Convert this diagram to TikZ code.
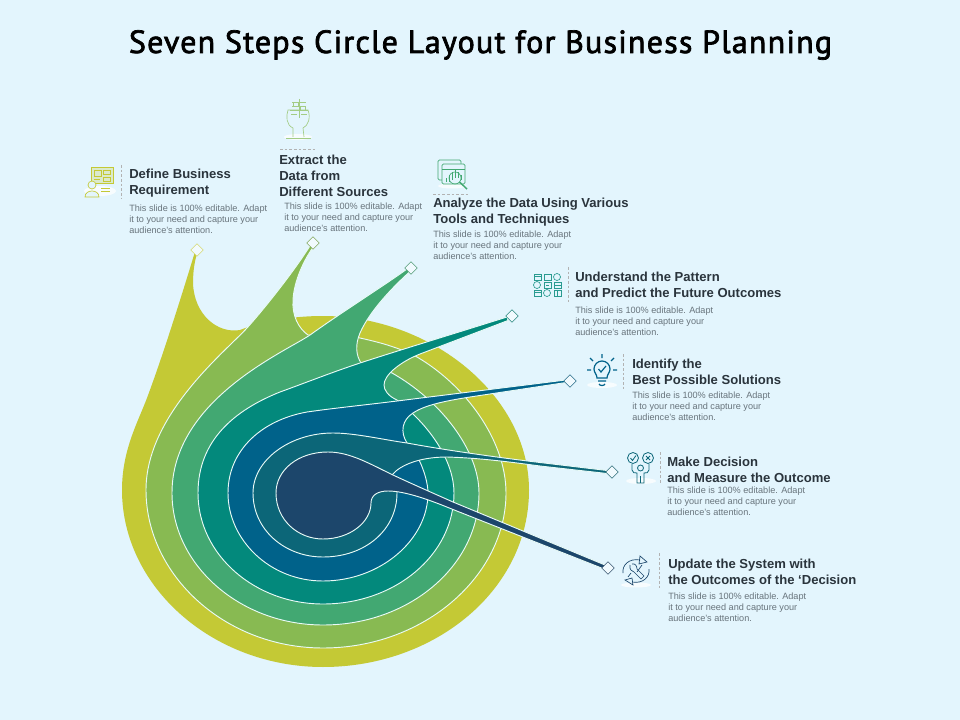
\documentclass[tikz,border=0pt]{standalone}
\usepackage{fontspec}
\usepackage{xcolor}
\usetikzlibrary{shapes.geometric}
\setmainfont{Liberation Sans}
\newfontfamily\titlefont[LetterSpace=3.8,FakeBold=2.2]{PT Sans}
\definecolor{skybg}{HTML}{E3F5FD}
\definecolor{bandA}{HTML}{C4C935}
\definecolor{bandB}{HTML}{88BA52}
\definecolor{bandC}{HTML}{42A872}
\definecolor{bandD}{HTML}{03897C}
\definecolor{bandE}{HTML}{00628A}
\definecolor{bandF}{HTML}{0C6678}
\definecolor{bandG}{HTML}{1C466B}
\definecolor{rimcol}{HTML}{E8FAF6}
\definecolor{headcol}{HTML}{2A343C}
\definecolor{bodycol}{HTML}{68747C}
\begin{document}
\begin{tikzpicture}[x=0.75pt,y=-0.75pt]
  \tikzstyle{band}=[draw=rimcol, line width=0.7pt]
  \tikzstyle{tipmark}=[diamond, fill=skybg!50!white, draw, line width=0.45pt, inner sep=0pt, minimum size=9.5pt]
  \tikzstyle{headtxt}=[anchor=north west, inner sep=0pt, align=left, text=headcol, font=\fontsize{9.8}{12}\selectfont\bfseries]
  \tikzstyle{bodytxt}=[anchor=north west, inner sep=0pt, align=left, text=bodycol, font=\fontsize{6.85}{8.25}\selectfont]
  \tikzstyle{rule}=[draw=gray!60, dashed, line width=0.35pt, dash pattern=on 2pt off 1.5pt]
  \tikzstyle{glow}=[fill=white, opacity=0.75]
  \tikzstyle{glyph}=[line width=0.5pt]

  \fill[skybg] (0,0) rectangle (960,720);
  \useasboundingbox (0,0) rectangle (960,720);

  \node (title) at (480.5,45) {\titlefont\fontsize{24}{28}\selectfont Seven Steps Circle Layout for Business Planning};

  \coordinate (tipA) at (197,250);
  \coordinate (tipB) at (313,243);
  \coordinate (tipC) at (411,268);
  \coordinate (tipD) at (512,316);
  \coordinate (tipE) at (570,381);
  \coordinate (tipF) at (612,472);
  \coordinate (tipG) at (608,568);

  \fill[bandA] (195.5,250) .. controls (188,275) and (165,350) .. (147,398)
    .. controls (138,422) and (122,450) .. (122,490)
    .. controls (122,587) and (213,667) .. (323,667)
    .. controls (435,667) and (529,590) .. (529,490)
    .. controls (529,395) and (430,316) .. (323,316)
    .. controls (290,316) and (260,322) .. (240,330)
    .. controls (218,334) and (194,315) .. (193,283)
    .. controls (193,270) and (195,258) .. (198.5,250) -- cycle;

  \filldraw[band, fill=bandB] (310.5,245) .. controls (295,270) and (265,308) .. (247,328)
    .. controls (225,352) and (146,415) .. (146,490)
    .. controls (146,575) and (225,648) .. (323,648)
    .. controls (425,648) and (506,575) .. (506,493)
    .. controls (506,440) and (465,385) .. (417,357)
    .. controls (398,347) and (378,342) .. (360,338)
    .. controls (345,335) and (325,335) .. (308,335)
    .. controls (298,328) and (292,315) .. (293,300)
    .. controls (294,280) and (305,258) .. (314,246) -- cycle;

  \filldraw[band, fill=bandC] (407,269) .. controls (385,285) and (345,310) .. (310,335)
    .. controls (285,352) and (172,400) .. (172,493)
    .. controls (172,565) and (240,625) .. (323,625)
    .. controls (410,625) and (479,565) .. (479,493)
    .. controls (479,450) and (440,400) .. (392,373)
    .. controls (380,368) and (370,366) .. (361,363)
    .. controls (356,355) and (355,345) .. (360,333)
    .. controls (370,310) and (395,285) .. (410,271.5) -- cycle;

  \filldraw[band, fill=bandD] (507,317) .. controls (440,338) and (400,350) .. (360,363)
    .. controls (330,373) and (305,383) .. (280,392)
    .. controls (235,410) and (198,440) .. (198,493)
    .. controls (198,555) and (255,604) .. (323,604)
    .. controls (395,604) and (454,555) .. (454,493)
    .. controls (454,465) and (435,430) .. (397,400)
    .. controls (388,396) and (384,390) .. (384,385)
    .. controls (384,375) and (400,362) .. (420,354)
    -- (508,320.5) -- cycle;

  \filldraw[band, fill=bandE] (566,380) -- (397,401)
    .. controls (365,405) and (335,408) .. (307,412)
    .. controls (262,420) and (228,450) .. (228,493)
    .. controls (228,540) and (270,581) .. (323,581)
    .. controls (380,581) and (428,540) .. (428,493)
    .. controls (428,480) and (420,455) .. (407,443)
    .. controls (400,432) and (402,420) .. (413,413)
    .. controls (425,405) and (445,401) .. (470,397)
    -- (566,382.5) -- cycle;

  \filldraw[band, fill=bandF] (607,470.5) -- (540,462.5)
    .. controls (510,459) and (450,451) .. (407,443)
    .. controls (385,440) and (355,433) .. (333,433)
    .. controls (290,433) and (253,460) .. (253,493)
    .. controls (253,530) and (285,557) .. (323,557)
    .. controls (365,557) and (397,530) .. (397,493)
    -- (397,488) -- (392,475)
    .. controls (400,465) and (420,457) .. (447,457)
    .. controls (480,458) and (510,462) .. (540,466)
    -- (607,473.5) -- cycle;

  \filldraw[band, fill=bandG] (605,565) -- (453,502)
    .. controls (435,494) and (410,483) .. (393,475)
    .. controls (370,464) and (350,452) .. (328,452)
    .. controls (298,452) and (276,470) .. (276,493)
    .. controls (276,520) and (298,539) .. (323,539)
    .. controls (350,539) and (371,522) .. (371,503)
    .. controls (371,495) and (378,491) .. (388,491)
    .. controls (405,491) and (430,500) .. (453,509.5)
    -- (604,569) -- cycle;

  \node[tipmark, draw=bandA!70!white] (markA) at (tipA) {};
  \node[tipmark, draw=bandB!70!gray] (markB) at (tipB) {};
  \node[tipmark, draw=bandC!70!gray] (markC) at (tipC) {};
  \node[tipmark, draw=bandD!70!gray] (markD) at (tipD) {};
  \node[tipmark, draw=bandE!70!gray] (markE) at (tipE) {};
  \node[tipmark, draw=bandF!70!gray] (markF) at (tipF) {};
  \node[tipmark, draw=bandG!70!gray] (markG) at (tipG) {};

  \node[headtxt] (headA) at (129,169) {Define Business\\Requirement};
  \node[bodytxt] (bodyA) at (129,204.5) {This slide is 100\% editable. Adapt\\it to your need and capture your\\audience's attention.};
  \node[headtxt] (headB) at (279,155) {Extract the\\Data from\\Different Sources};
  \node[bodytxt] (bodyB) at (284,202.5) {This slide is 100\% editable. Adapt\\it to your need and capture your\\audience's attention.};
  \node[headtxt] (headC) at (433,198) {Analyze the Data Using Various\\Tools and Techniques};
  \node[bodytxt] (bodyC) at (433,230.5) {This slide is 100\% editable. Adapt\\it to your need and capture your\\audience's attention.};
  \node[headtxt] (headD) at (575,272) {Understand the Pattern\\and Predict the Future Outcomes};
  \node[bodytxt] (bodyD) at (575,306.5) {This slide is 100\% editable. Adapt\\it to your need and capture your\\audience's attention.};
  \node[headtxt] (headE) at (632,359) {Identify the\\Best Possible Solutions};
  \node[bodytxt] (bodyE) at (632,391.5) {This slide is 100\% editable. Adapt\\it to your need and capture your\\audience's attention.};
  \node[headtxt] (headF) at (667,457) {Make Decision\\and Measure the Outcome};
  \node[bodytxt] (bodyF) at (667,486.5) {This slide is 100\% editable. Adapt\\it to your need and capture your\\audience's attention.};
  \node[headtxt] (headG) at (668,559) {Update the System with\\the Outcomes of the ‘Decision};
  \node[bodytxt] (bodyG) at (668,592.5) {This slide is 100\% editable. Adapt\\it to your need and capture your\\audience's attention.};

  \draw[rule] (121,165) -- (121,198);
  \draw[rule] (280,149) -- (316,149);
  \draw[rule] (433,194) -- (469,194);
  \draw[rule] (568,267) -- (568,303);
  \draw[rule] (623,354) -- (623,390);
  \draw[rule] (660,452) -- (660,484);
  \draw[rule] (659,553) -- (659,588);

  \fill[glow] (100,191) ellipse [x radius=16, y radius=5];
  \begin{scope}[glyph, draw=bandA]
    \draw[fill=bandA!25!skybg] (91,167) rectangle (113,183);
    \draw (94,170) rectangle (101,176);
    \draw (103,170) rectangle (110,174);
    \draw (103,177) rectangle (110,181);
    \draw (94,179) -- (100,179);
    \draw[fill=skybg] (92,185) circle [radius=4];
    \draw[fill=skybg] (85,197) .. controls (85,189) and (99,189) .. (99,197) -- cycle;
    \draw (101,188) -- (110,188) (101,191) -- (110,191);
  \end{scope}

  \fill[glow] (298,137) ellipse [x radius=14, y radius=3];
  \begin{scope}[glyph, draw=bandB!70!skybg]
    \draw (304,137) -- (303,128) .. controls (308,126) and (311,118) .. (308,110)
      -- (288,110) .. controls (286,116) and (286,125) .. (293,128) -- (293,137);
    \draw (286,138) -- (311,138);
    \draw (292,102) -- (306,102) (292,106) -- (306,106) (290,110) -- (308,110) (299,99) -- (299,118);
    \draw (291,114) -- (297,114) (301,114) -- (307,114);
    \draw (293,102) rectangle (298,106) (300,106) rectangle (305,110);
  \end{scope}

  \fill[glow] (452,186) ellipse [x radius=14, y radius=2.5];
  \begin{scope}[glyph, draw=bandC]
    \draw[rounded corners=1pt] (438,160) rectangle (461,180);
    \draw[rounded corners=1pt, fill=skybg] (442,164) rectangle (465,184);
    \draw (442,169) -- (465,169);
    \draw (446,182) -- (446,178) (449,182) -- (449,175) (452,180) -- (452,172) (455,178) -- (455,170) (458,178) -- (458,172) (461,180) -- (461,175);
    \draw (455,178) circle [radius=6];
    \draw[line width=1.1pt] (459.5,182) -- (467,189);
  \end{scope}

  \begin{scope}[glyph, draw=bandD!85!white]
    \draw (534,274) rectangle (541,280);
    \draw (534,276) -- (541,276);
    \draw (544,274) rectangle (551,280);
    \draw (557,277) circle [radius=3.5];
    \draw (537,285) circle [radius=3.5];
    \draw (544,282) rectangle (551,288);
    \draw (546,285) -- (549,285);
    \draw (554,282) rectangle (561,288);
    \draw (554,285) -- (561,285);
    \draw (534,290) rectangle (541,296);
    \draw (534,292) -- (541,292);
    \draw (547,293) circle [radius=3.5];
    \draw (554,290) rectangle (561,296);
    \draw (557,290) -- (557,296);
  \end{scope}

  \fill[glow] (602,385) ellipse [x radius=15, y radius=3];
  \begin{scope}[glyph, draw=bandE, line width=0.9pt]
    \draw (597,378) .. controls (597,374) and (594,373) .. (594,369)
      arc [start angle=180, end angle=360, radius=8]
      .. controls (610,373) and (607,374) .. (607,378) -- cycle;
    \draw (598,381) -- (606,381) (599,384) .. controls (600,386) and (604,386) .. (605,384);
    \draw (598.5,369) -- (601,372) -- (606,366);
    \draw (602,354) -- (602,358) (590,358) -- (593,361) (614,358) -- (611,361) (587,370) -- (591,370) (617,370) -- (613,370);
  \end{scope}

  \fill[glow] (641,481) ellipse [x radius=15, y radius=3];
  \begin{scope}[glyph, draw=bandF, line width=0.6pt]
    \draw (633,458) circle [radius=5.5];
    \draw (648,458) circle [radius=5.5];
    \draw (630.5,458) -- (632.5,460.5) -- (636,455.5);
    \draw (646,456) -- (650,460) (650,456) -- (646,460);
    \draw (640.5,468) circle [radius=3];
    \draw (632,464) -- (632,470) .. controls (632,473) and (635,473) .. (637,473) -- (637,483) -- (644,483) -- (644,473)
      .. controls (646,473) and (649,473) .. (649,470) -- (649,464);
    \draw (640.5,476) -- (640.5,483);
  \end{scope}

  \fill[glow] (636,585) ellipse [x radius=15, y radius=2.5];
  \begin{scope}[glyph, draw=bandG]
    \draw (623,573) .. controls (622,565) and (629,558) .. (640,560);
    \draw (640,556) -- (647,562) -- (639,564) -- cycle;
    \draw (649,569) .. controls (650,577) and (643,584) .. (632,582);
    \draw (632,578) -- (625,580) -- (633,585) -- cycle;
    \draw (630,565) .. controls (629,570) and (632,571) .. (634,572) -- (641,579) -- (644,576) -- (637,569)
      .. controls (637,566) and (635,563) .. (632,564);
    \draw (642,565) -- (637,572) (631,573) -- (628,577);
  \end{scope}
\end{tikzpicture}
\end{document}
